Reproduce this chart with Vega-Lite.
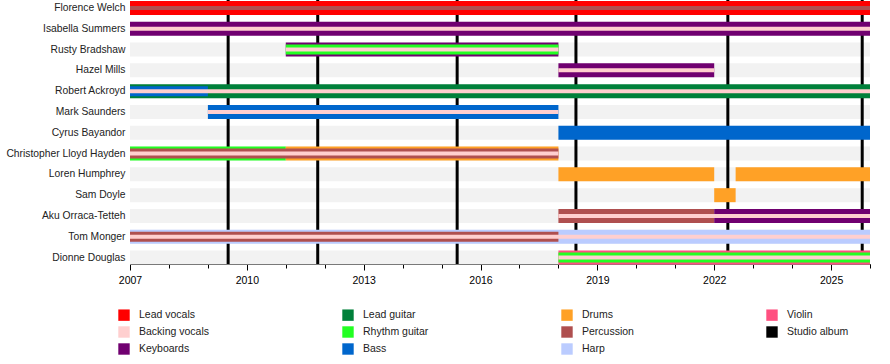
{
  "$schema": "https://vega.github.io/schema/vega-lite/v6.json",
  "width": 740,
  "height": 264,
  "autosize": {"type": "none"},
  "padding": {"left": 130, "top": 0, "right": 20, "bottom": 100},
  "config": {"font": "Liberation Sans", "view": {"stroke": null}},
  "resolve": {"axis": {"x": "independent"}},
  "datasets": {
    "members": [
      {"member": "Florence Welch", "start": 2007, "end": 2026},
      {"member": "Isabella Summers", "start": 2007, "end": 2026},
      {"member": "Rusty Bradshaw", "start": 2007, "end": 2026},
      {"member": "Hazel Mills", "start": 2007, "end": 2026},
      {"member": "Robert Ackroyd", "start": 2007, "end": 2026},
      {"member": "Mark Saunders", "start": 2007, "end": 2026},
      {"member": "Cyrus Bayandor", "start": 2007, "end": 2026},
      {"member": "Christopher Lloyd Hayden", "start": 2007, "end": 2026},
      {"member": "Loren Humphrey", "start": 2007, "end": 2026},
      {"member": "Sam Doyle", "start": 2007, "end": 2026},
      {"member": "Aku Orraca-Tetteh", "start": 2007, "end": 2026},
      {"member": "Tom Monger", "start": 2007, "end": 2026},
      {"member": "Dionne Douglas", "start": 2007, "end": 2026}
    ],
    "albums": [
      {"album": "Lungs", "year": 2009.52},
      {"album": "Ceremonials", "year": 2011.82},
      {"album": "How Big, How Blue, How Beautiful", "year": 2015.4},
      {"album": "High as Hope", "year": 2018.45},
      {"album": "Dance Fever", "year": 2022.35},
      {"album": "Everybody Scream", "year": 2025.8}
    ],
    "segments": [
      {"member": "Florence Welch", "part": "main", "instrument": "Lead vocals", "start": 2007, "end": 2026},
      {"member": "Florence Welch", "part": "inner", "instrument": "Percussion", "start": 2007, "end": 2026},
      {"member": "Isabella Summers", "part": "main", "instrument": "Keyboards", "start": 2007, "end": 2026},
      {"member": "Isabella Summers", "part": "inner", "instrument": "Backing vocals", "start": 2007, "end": 2026},
      {"member": "Rusty Bradshaw", "part": "main", "instrument": "Keyboards", "start": 2011, "end": 2018},
      {"member": "Rusty Bradshaw", "part": "mid", "instrument": "Rhythm guitar", "start": 2011, "end": 2018},
      {"member": "Rusty Bradshaw", "part": "inner", "instrument": "Backing vocals", "start": 2011, "end": 2018},
      {"member": "Hazel Mills", "part": "main", "instrument": "Keyboards", "start": 2018, "end": 2022},
      {"member": "Hazel Mills", "part": "inner", "instrument": "Backing vocals", "start": 2018, "end": 2022},
      {"member": "Robert Ackroyd", "part": "main", "instrument": "Lead guitar", "start": 2007, "end": 2026},
      {"member": "Robert Ackroyd", "part": "mid", "instrument": "Bass", "start": 2007, "end": 2009},
      {"member": "Robert Ackroyd", "part": "inner", "instrument": "Backing vocals", "start": 2007, "end": 2026},
      {"member": "Mark Saunders", "part": "main", "instrument": "Bass", "start": 2009, "end": 2018},
      {"member": "Mark Saunders", "part": "inner", "instrument": "Backing vocals", "start": 2009, "end": 2018},
      {"member": "Cyrus Bayandor", "part": "main", "instrument": "Bass", "start": 2018, "end": 2026},
      {"member": "Christopher Lloyd Hayden", "part": "main", "instrument": "Rhythm guitar", "start": 2007, "end": 2011},
      {"member": "Christopher Lloyd Hayden", "part": "main", "instrument": "Drums", "start": 2011, "end": 2018},
      {"member": "Christopher Lloyd Hayden", "part": "mid", "instrument": "Percussion", "start": 2007, "end": 2018},
      {"member": "Christopher Lloyd Hayden", "part": "inner", "instrument": "Backing vocals", "start": 2007, "end": 2018},
      {"member": "Loren Humphrey", "part": "main", "instrument": "Drums", "start": 2018, "end": 2022},
      {"member": "Loren Humphrey", "part": "main", "instrument": "Drums", "start": 2022.55, "end": 2026},
      {"member": "Sam Doyle", "part": "main", "instrument": "Drums", "start": 2022, "end": 2022.55},
      {"member": "Aku Orraca-Tetteh", "part": "main", "instrument": "Percussion", "start": 2018, "end": 2022},
      {"member": "Aku Orraca-Tetteh", "part": "main", "instrument": "Keyboards", "start": 2022, "end": 2026},
      {"member": "Aku Orraca-Tetteh", "part": "inner", "instrument": "Backing vocals", "start": 2018, "end": 2026},
      {"member": "Tom Monger", "part": "main", "instrument": "Harp", "start": 2007, "end": 2026},
      {"member": "Tom Monger", "part": "mid", "instrument": "Percussion", "start": 2007, "end": 2018},
      {"member": "Tom Monger", "part": "inner", "instrument": "Backing vocals", "start": 2007, "end": 2026},
      {"member": "Dionne Douglas", "part": "main", "instrument": "Violin", "start": 2018, "end": 2026},
      {"member": "Dionne Douglas", "part": "mid", "instrument": "Rhythm guitar", "start": 2018, "end": 2026},
      {"member": "Dionne Douglas", "part": "inner", "instrument": "Backing vocals", "start": 2018, "end": 2026}
    ]
  },
  "layer": [
    {
      "data": {"name": "members"},
      "mark": {"type": "bar", "height": 14, "color": "#f2f2f2"},
      "encoding": {
        "y": {
          "field": "member", "type": "nominal",
          "scale": {
            "domain": ["Florence Welch", "Isabella Summers", "Rusty Bradshaw", "Hazel Mills", "Robert Ackroyd", "Mark Saunders", "Cyrus Bayandor", "Christopher Lloyd Hayden", "Loren Humphrey", "Sam Doyle", "Aku Orraca-Tetteh", "Tom Monger", "Dionne Douglas"],
            "range": [-2.5, 268]
          },
          "axis": {"title": null, "domain": false, "ticks": false, "labelFontSize": 10.3, "labelPadding": 5, "labelColor": "#222222", "labelLimit": 200}
        },
        "x": {
          "field": "start", "type": "quantitative",
          "scale": {"domain": [2007, 2026], "nice": false, "zero": false},
          "axis": {
            "title": null,
            "orient": "bottom",
            "values": [2007, 2010, 2013, 2016, 2019, 2022, 2025],
            "format": "d",
            "labelOverlap": false,
            "tickSize": 6,
            "grid": false,
            "domainColor": "black",
            "tickColor": "black",
            "labelColor": "black",
            "labelFontSize": 10.5,
            "labelPadding": 5,
            "labelFlush": false
          }
        },
        "x2": {"field": "end"}
      }
    },
    {
      "data": {"name": "albums"},
      "mark": {"type": "rule", "color": "black", "strokeWidth": 3},
      "encoding": {
        "x": {
          "field": "year", "type": "quantitative",
          "axis": {
            "title": null,
            "orient": "bottom",
            "values": [2007, 2008, 2009, 2010, 2011, 2012, 2013, 2014, 2015, 2016, 2017, 2018, 2019, 2020, 2021, 2022, 2023, 2024, 2025, 2026],
            "labels": false,
            "domain": false,
            "grid": false,
            "tickSize": 4,
            "tickColor": "black"
          }
        }
      }
    },
    {
      "data": {"name": "segments"},
      "transform": [{"filter": "datum.part == 'main'"}],
      "mark": {"type": "bar", "height": 14},
      "encoding": {
        "y": {"field": "member", "type": "nominal"},
        "x": {"field": "start", "type": "quantitative", "axis": null},
        "x2": {"field": "end"},
        "color": {
          "field": "instrument", "type": "nominal",
          "scale": {
            "domain": ["Lead vocals", "Backing vocals", "Keyboards", "Lead guitar", "Rhythm guitar", "Bass", "Drums", "Percussion", "Harp", "Violin", "Studio album"],
            "range": ["#FF0000", "#FFCFCF", "#700070", "#00803A", "#22FF22", "#0066CC", "#FFA126", "#AF4F4F", "#BBCCFF", "#FF5080", "#000000"]
          },
          "legend": {
            "title": null, "orient": "none", "legendX": -12, "legendY": 309,
            "direction": "vertical",
            "columns": 4, "gridAlign": "each", "columnPadding": 132, "rowPadding": 5,
            "symbolType": "square", "symbolSize": 130, "symbolStrokeWidth": 0, "symbolOpacity": 1,
            "labelFontSize": 10.5, "labelOffset": 9, "labelColor": "#222222"
          }
        }
      }
    },
    {
      "data": {"name": "segments"},
      "transform": [{"filter": "datum.part == 'mid'"}],
      "mark": {"type": "bar", "height": 10},
      "encoding": {
        "y": {"field": "member", "type": "nominal"},
        "x": {"field": "start", "type": "quantitative", "axis": null},
        "x2": {"field": "end"},
        "color": {"field": "instrument", "type": "nominal"}
      }
    },
    {
      "data": {"name": "segments"},
      "transform": [{"filter": "datum.part == 'inner'"}],
      "mark": {"type": "bar", "height": 4},
      "encoding": {
        "y": {"field": "member", "type": "nominal"},
        "x": {"field": "start", "type": "quantitative", "axis": null},
        "x2": {"field": "end"},
        "color": {"field": "instrument", "type": "nominal"}
      }
    }
  ]
}
